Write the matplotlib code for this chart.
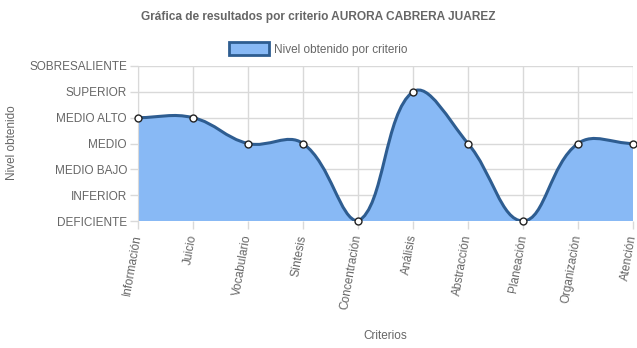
import numpy as np
import matplotlib.pyplot as plt
from matplotlib.path import Path
from matplotlib.patches import PathPatch, Patch

plt.rcParams['font.family'] = ['Liberation Sans', 'DejaVu Sans']

criterios = ['Información', 'Juicio', 'Vocabulario', 'Síntesis', 'Concentración',
             'Análisis', 'Abstracción', 'Planeación', 'Organización', 'Atención']
niveles = ['DEFICIENTE', 'INFERIOR', 'MEDIO BAJO', 'MEDIO', 'MEDIO ALTO',
           'SUPERIOR', 'SOBRESALIENTE']
valores = [4, 4, 3, 3, 0, 5, 3, 0, 3, 3]

FILL = '#88b9f5'
LINE = '#2e5d91'
TXT = '#666666'
GRID = '#d9d9d9'
FS = 8.5

fig = plt.figure(figsize=(6.37, 3.48), dpi=100)
ax = fig.add_axes([138 / 637, 1 - 221 / 348, 495 / 637, 155 / 348])
ax.set_xlim(0, len(criterios) - 1)
ax.set_ylim(0, len(niveles) - 1)

# spline through points, control points computed in pixel space (tension 0.4)
x = np.arange(len(valores), dtype=float)
y = np.array(valores, dtype=float)
pts = ax.transData.transform(np.column_stack([x, y]))
x0, y0 = ax.transData.transform((0, 0))
x1, y1 = ax.transData.transform((len(criterios) - 1, len(niveles) - 1))
t = 0.4
n = len(pts)
cp_prev = np.zeros_like(pts)
cp_next = np.zeros_like(pts)
for i in range(n):
    p0 = pts[max(i - 1, 0)]
    p1 = pts[i]
    p2 = pts[min(i + 1, n - 1)]
    d01 = np.hypot(*(p1 - p0))
    d12 = np.hypot(*(p2 - p1))
    tot = d01 + d12
    s01 = d01 / tot if tot else 0
    s12 = d12 / tot if tot else 0
    cp_prev[i] = p1 - t * s01 * (p2 - p0)
    cp_next[i] = p1 + t * s12 * (p2 - p0)
for cp in (cp_prev, cp_next):
    cp[:, 0] = np.clip(cp[:, 0], x0, x1)
    cp[:, 1] = np.clip(cp[:, 1], y0, y1)

inv = ax.transData.inverted()
verts = [pts[0]]
codes = [Path.MOVETO]
for i in range(n - 1):
    verts += [cp_next[i], cp_prev[i + 1], pts[i + 1]]
    codes += [Path.CURVE4] * 3
verts = inv.transform(np.array(verts))

fill_verts = np.vstack([verts, [[x[-1], 0], [x[0], 0], verts[0]]])
fill_codes = codes + [Path.LINETO, Path.LINETO, Path.CLOSEPOLY]
ax.add_patch(PathPatch(Path(fill_verts, fill_codes), facecolor=FILL, edgecolor='none', zorder=2))
ax.add_patch(PathPatch(Path(verts, codes), facecolor='none', edgecolor=LINE, lw=2.2, zorder=3,
                       capstyle='round', joinstyle='round'))
ax.plot(x, y, 'o', ms=5, mfc='white', mec='#222222', mew=1, zorder=4, clip_on=False)

ax.set_xticks(x)
ax.set_xticklabels(criterios, rotation=80, ha='right', va='center', rotation_mode='anchor',
                   fontsize=FS, color=TXT)
ax.set_yticks(range(len(niveles)))
ax.set_yticklabels(niveles, fontsize=FS, color=TXT)
ax.tick_params(axis='both', length=6, color=GRID, width=1, pad=2)
ax.tick_params(axis='x', pad=4)
ax.grid(True, color=GRID, lw=1, zorder=1)
ax.set_axisbelow(True)
for s in ax.spines.values():
    s.set_visible(False)
ax.spines['left'].set_visible(True)
ax.spines['left'].set_color(GRID)

fig.text(12 / 637, 1 - 143 / 348, 'Nivel obtenido', fontsize=FS, color=TXT, rotation=90,
         ha='center', va='center')
fig.text(385 / 637, 1 - 336 / 348, 'Criterios', fontsize=FS, color=TXT, ha='center', va='center')
fig.text(318 / 637, 1 - 17 / 348, 'Gráfica de resultados por criterio AURORA CABRERA JUAREZ',
         fontsize=8.6, fontweight='bold', color=TXT, ha='center', va='center')

handle = Patch(facecolor=FILL, edgecolor=LINE, lw=2)
fig.legend([handle], ['Nivel obtenido por criterio'], loc='center', bbox_to_anchor=(318 / 637, 1 - 49 / 348),
           frameon=False, fontsize=FS, labelcolor=TXT, handlelength=3.4, handleheight=1.2,
           handletextpad=0.4)

fig.savefig('out.png', dpi=100)
